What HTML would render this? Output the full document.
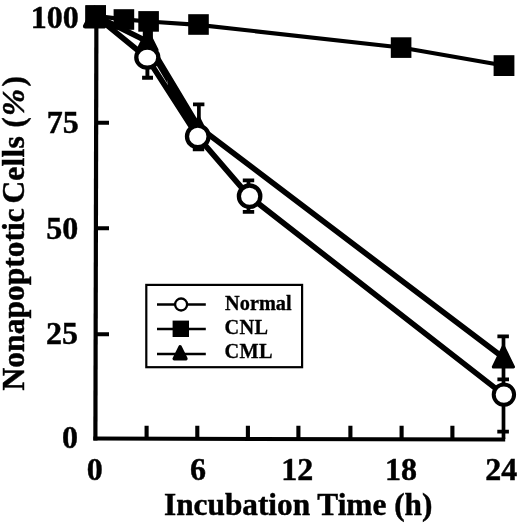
<!DOCTYPE html>
<html>
<head>
<meta charset="utf-8">
<title>Nonapoptotic Cells vs Incubation Time</title>
<style>
html,body{margin:0;padding:0;background:#fff;}
svg{display:block;will-change:transform;}
text{font-family:"Liberation Serif","Times New Roman",serif;font-weight:bold;fill:#000;}
</style>
</head>
<body>
<svg width="520" height="523" viewBox="0 0 520 523">
<rect width="520" height="523" fill="#fff"/>

<!-- axes -->
<g stroke="#000" fill="none" stroke-linecap="butt">
  <path d="M96.4 15 L95.4 440.6" stroke-width="4.2"/>
  <path d="M93.4 438.6 L505.2 439.4" stroke-width="4"/>
  <!-- y ticks -->
  <path d="M96 122.7 h13 M95.8 228.3 h13.2 M95.5 334.2 h13.5" stroke-width="4.1"/>
  <!-- x ticks -->
  <path d="M146.6 439 v-13.3 M197.3 439 v-13.3 M247.9 439 v-13.3 M298.4 439 v-13.3 M350.4 439 v-13.3 M401.6 439 v-13.3 M452.4 439 v-13.3" stroke-width="4.1"/>
</g>

<!-- data lines -->
<g stroke="#000" stroke-width="5.6" fill="none" stroke-linejoin="round" stroke-linecap="round">
  <!-- CNL -->
  <polyline points="95.6,15.8 124,19.4 148.6,21.5 198.5,24.8 401,47.5 504,65.5" stroke-width="4.2"/>
  <!-- CML -->
  <polyline points="95.6,15.8 147.4,41.5 198.5,126.8 503.2,357.6"/>
  <!-- Normal -->
  <polygon points="150.0,45.8 167.8,75.6 167.6,84.1 149.8,54.1" fill="#000" stroke="none"/>
  <polygon points="167.8,75.6 198.5,126.8 197.9,136.5 167.5,89.8" fill="#000" stroke="none"/>
  <polyline points="95.6,15.8 147.2,58 197.7,136.6 249.2,196.4 503.6,394.6"/>
</g>

<!-- error bars -->
<g stroke="#000" stroke-width="3.7" fill="none">
  <!-- 3h normal lower -->
  <path d="M147.4 58 V77.8 M142.1 77.8 h10.9" stroke-width="3.9"/>
  <!-- 6h -->
  <path d="M198.9 104.4 V149.4 M193 104.4 h11.4 M192.8 149.4 h11.4"/>
  <!-- 9h -->
  <path d="M248.5 180.4 V211.9 M242.8 180.4 h11.4 M242.8 211.9 h11.4"/>
  <!-- 24h -->
  <path d="M503.5 336.4 V439 M497.4 336.4 h11.5 M497.4 379.3 h11.6 M497.3 431.7 h11.6"/>
</g>

<!-- markers -->
<g fill="#000" stroke="none">
  <rect x="85.4" y="5.3" width="20.6" height="20.6"/>
  <rect x="113.6" y="9.2" width="20.6" height="20.6"/>
  <rect x="138.3" y="11.1" width="20.6" height="20.6"/>
  <rect x="188.2" y="14.2" width="20.6" height="20.6"/>
  <rect x="390.8" y="37.3" width="20.6" height="20.6"/>
  <rect x="493.6" y="55.2" width="20.8" height="20.8"/>
</g>
<g fill="#000" stroke="#000" stroke-width="3" stroke-linejoin="round">
  <!-- triangles: apex y-12, base y+8.5, half width 9.7 -->
  <path d="M94.8 8 l9.3 18.2 h-18.9 z" stroke-width="4.6"/>
  <path d="M147.4 30.5 l9.7 19.5 h-19.4 z"/>
  <rect x="144.3" y="30" width="7.1" height="8" stroke-width="3" stroke-linejoin="miter"/>
  <path d="M198.6 117.5 l9.7 19.5 h-19.4 z"/>
  <path d="M503.4 346.2 l10.1 20.7 h-20.2 z"/>
</g>
<g fill="#fff" stroke="#000" stroke-width="4.3">
  <ellipse cx="147.3" cy="57.6" rx="11" ry="10.1"/>
  <circle cx="197.8" cy="136.4" r="10.8"/>
  <circle cx="249.6" cy="196.2" r="10.7"/>
  <circle cx="503.9" cy="394.6" r="10.2" stroke-width="4"/>
</g>
<!-- square at 0 drawn over circle -->
<rect x="85.4" y="5.3" width="20.6" height="20.6" fill="#000"/>

<!-- legend -->
<rect x="146.3" y="284.9" width="155.8" height="82.3" fill="#fff" stroke="#000" stroke-width="2.2"/>
<g stroke="#000" stroke-width="2.3" fill="none">
  <path d="M157 304.5 H205.8 M157 329 H205.8 M157 354 H205.8"/>
</g>
<circle cx="181.1" cy="304.5" r="6" fill="#fff" stroke="#000" stroke-width="2.3"/>
<rect x="172.6" y="320.6" width="16.4" height="16.4" fill="#000"/>
<path d="M180.1 346.8 l5.9 12 h-11.8 z" fill="#000" stroke="#000" stroke-width="3.4" stroke-linejoin="round"/>
<text x="225.1" y="310.2" font-size="20.3" stroke="#000" stroke-width="0.3">Normal</text>
<text x="224.4" y="333.8" font-size="20.3" stroke="#000" stroke-width="0.3" letter-spacing="0.35">CNL</text>
<text x="224.4" y="357.8" font-size="20.3" stroke="#000" stroke-width="0.3" letter-spacing="0.35">CML</text>

<!-- y tick labels -->
<g font-size="32" text-anchor="end" stroke="#000" stroke-width="0.45">
  <text x="78.8" y="28.4">100</text>
  <text x="78.8" y="133">75</text>
  <text x="78.2" y="238.8">50</text>
  <text x="77.9" y="343.8">25</text>
  <text x="78" y="447.8">0</text>
</g>
<!-- x tick labels -->
<g font-size="32" text-anchor="middle" stroke="#000" stroke-width="0.45">
  <text x="94.7" y="480.2">0</text>
  <text x="198" y="480.2">6</text>
  <text x="297.2" y="480.2">12</text>
  <text x="401" y="480.2">18</text>
  <text x="501.3" y="480.2">24</text>
</g>
<!-- axis titles -->
<g stroke="#000" stroke-width="0.45">
<text id="xt" x="164" y="514.6" font-size="31.3">Incubation Time (h)</text>
<g transform="translate(24.3 0) rotate(-90)" font-size="31.5">
  <text id="yt1" x="-390.4" y="0">Nonapoptotic</text>
  <text id="yt2" x="-203.6" y="0" letter-spacing="0.2">Cells</text>
  <text id="yt3" x="-127.8" y="0">(</text>
  <text id="yt4" x="-116" y="0" font-style="italic" font-size="32.5">%</text>
  <text id="yt5" x="-86.6" y="0">)</text>
</g>
</g>
</svg>
</body>
</html>
